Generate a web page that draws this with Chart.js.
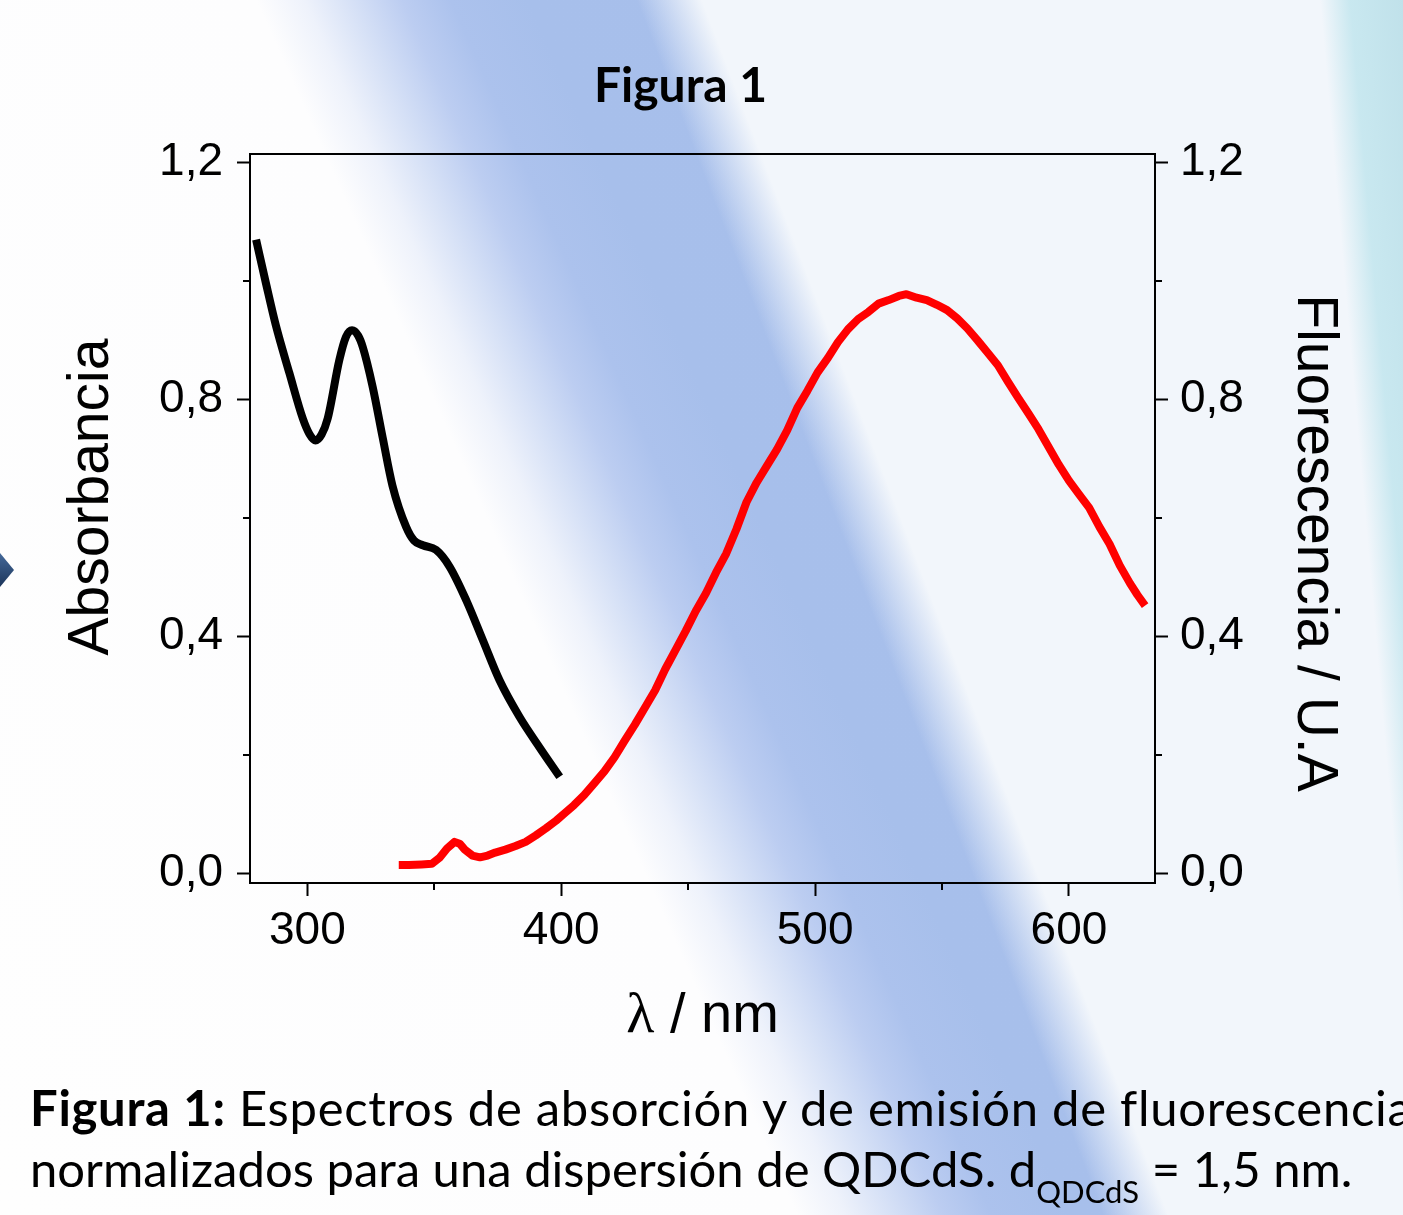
<!DOCTYPE html>
<html>
<head>
<meta charset="utf-8">
<script src="https://cdn.jsdelivr.net/npm/chart.js@4.4.1/dist/chart.umd.min.js"></script>
<style>
  html, body { margin: 0; padding: 0; }
  body {
    width: 1403px; height: 1215px; overflow: hidden; position: relative;
    background:
      linear-gradient(85deg, rgba(198,231,239,0) 94.5%, rgba(198,231,239,0.95) 96.5%, #c0e1ea 100%),
      linear-gradient(69deg, rgba(242,246,251,0) 59%, rgba(242,246,251,1) 62.5%),
      linear-gradient(66deg, #fefefe 0%, #fdfdfe 41%, #eef2fb 43.5%, #d5e0f6 46%, #bccdf1 48.5%, #acc2ed 51%, #a7bfeb 55%, #a9c0ec 100%);
  }
  #chart { position: absolute; left: 0; top: 0; }
  #arrow {
    position: absolute; left: 0; top: 553px; width: 14px; height: 34px;
    background: linear-gradient(#44699a, #1c355a);
    clip-path: polygon(0 0, 100% 50%, 0 100%);
  }
  #caption {
    position: absolute; left: 30px; top: 1077px;
    font-family: "Lato", sans-serif; font-size: 49px; line-height: 61px;
    color: #000; white-space: nowrap;
  }
  #caption .first { letter-spacing: 0.7px; }
  #caption .sub { font-size: 31px; position: relative; top: 16px; }
</style>
</head>
<body>
<div id="arrow"></div>
<canvas id="chart" width="1403" height="1215"></canvas>
<div id="caption"><span class="first"><b>Figura 1:</b> Espectros de absorción y de emisión de fluorescencia</span><br>normalizados para una dispersión de QDCdS. d<span class="sub">QDCdS</span> = 1,5 nm.</div>
<script>
// absorption spectrum (left axis)
const absWavelength = [279.8, 283.7, 287.6, 292.9, 298.2, 300.8, 303.2, 305.6, 308.0, 312.6, 315.2, 317.6, 320.0, 321.8, 325.7, 329.7, 333.5, 338.9, 342.0, 345.5, 350.7, 356.0, 362.6, 369.1, 375.7, 383.6, 391.4, 399.4];
const absorbance = [1.070, 0.996, 0.925, 0.845, 0.768, 0.742, 0.731, 0.741, 0.768, 0.867, 0.906, 0.917, 0.908, 0.889, 0.822, 0.735, 0.655, 0.585, 0.562, 0.554, 0.546, 0.518, 0.461, 0.394, 0.326, 0.264, 0.213, 0.163];

// emission spectrum (right axis)
const flWavelength = [336, 340, 345, 349, 352, 355, 358, 360, 362, 365, 368, 371, 374, 378, 382, 386, 390, 394, 398, 401, 405, 409, 413, 417, 421, 425, 429, 433, 437, 441, 445, 449, 453, 457, 461, 465, 469, 473, 477, 481, 485, 489, 493, 497, 501, 505, 509, 513, 517, 521, 525, 529, 533, 536, 540, 544, 548, 552, 556, 560, 564, 568, 572, 576, 580, 584, 588, 592, 596, 600, 604, 608, 612, 616, 620, 624, 627, 630];
const fluorescence = [0.014, 0.014, 0.015, 0.016, 0.026, 0.042, 0.053, 0.050, 0.040, 0.030, 0.027, 0.030, 0.035, 0.040, 0.046, 0.053, 0.064, 0.076, 0.089, 0.100, 0.115, 0.132, 0.152, 0.172, 0.196, 0.224, 0.251, 0.280, 0.309, 0.345, 0.377, 0.409, 0.443, 0.473, 0.508, 0.540, 0.581, 0.627, 0.660, 0.688, 0.716, 0.748, 0.786, 0.815, 0.846, 0.870, 0.897, 0.919, 0.936, 0.948, 0.962, 0.968, 0.975, 0.978, 0.972, 0.968, 0.960, 0.951, 0.937, 0.920, 0.900, 0.879, 0.858, 0.830, 0.803, 0.777, 0.750, 0.720, 0.690, 0.663, 0.640, 0.617, 0.585, 0.556, 0.520, 0.490, 0.470, 0.452];

// axis ticks
const xTicks = [300, 350, 400, 450, 500, 550, 600];
const xMajor = [300, 400, 500, 600];
const yTicks = [0, 0.2, 0.4, 0.6, 0.8, 1.0, 1.2];
const yMajor = [0, 0.4, 0.8, 1.2];

const absPoints = absWavelength.map((x, i) => ({x: x, y: absorbance[i]}));
const flPoints = flWavelength.map((x, i) => ({x: x, y: fluorescence[i]}));

const tickFont = {family: 'Liberation Sans', size: 46};
const isMajor = (list, v) => list.some(m => Math.abs(m - v) < 1e-6);
const fmtY = v => isMajor(yMajor, v) ? v.toFixed(1).replace('.', ',') : '';

// short minor ticks + axis titles
const frameExtras = {
  id: 'frameExtras',
  afterDraw(chart) {
    const c = chart.ctx;
    const {x, y, y2} = chart.scales;
    const area = chart.chartArea;
    c.save();
    c.strokeStyle = '#000';
    c.lineWidth = 2;
    c.beginPath();
    xTicks.filter(v => !isMajor(xMajor, v)).forEach(v => {
      const px = Math.round(x.getPixelForValue(v));
      c.moveTo(px, area.bottom); c.lineTo(px, area.bottom + 7);
    });
    yTicks.filter(v => !isMajor(yMajor, v)).forEach(v => {
      const py = Math.round(y.getPixelForValue(v));
      c.moveTo(area.left - 7, py); c.lineTo(area.left, py);
      const py2 = Math.round(y2.getPixelForValue(v));
      c.moveTo(area.right, py2); c.lineTo(area.right + 7, py2);
    });
    c.stroke();

    c.fillStyle = '#000';
    c.textBaseline = 'middle';
    c.textAlign = 'center';
    c.font = '57px "Liberation Sans"';
    c.save();
    c.translate(92, 497);
    c.rotate(-Math.PI / 2);
    c.fillText('Absorbancia', 0, 0);
    c.restore();
    c.save();
    c.translate(1314, 543);
    c.rotate(Math.PI / 2);
    c.fillText('Fluorescencia / U.A', 0, 0);
    c.restore();

    // x title: serif lambda followed by the unit
    const lam = 'λ';
    const rest = ' / nm';
    c.font = '58px "Liberation Serif"';
    const wl = c.measureText(lam).width;
    c.font = '56px "Liberation Sans"';
    const wr = c.measureText(rest).width;
    const x0 = (area.left + area.right) / 2 - (wl + wr) / 2;
    c.textAlign = 'left';
    c.textBaseline = 'alphabetic';
    c.font = '58px "Liberation Serif"';
    c.fillText(lam, x0, 1032);
    c.font = '56px "Liberation Sans"';
    c.fillText(rest, x0 + wl, 1032);
    c.restore();
  }
};

const ctx = document.getElementById('chart').getContext('2d');
new Chart(ctx, {
  type: 'line',
  data: {
    datasets: [
      {
        label: 'Absorbancia',
        data: absPoints,
        xAxisID: 'x', yAxisID: 'y',
        borderColor: '#000000',
        borderWidth: 8,
        pointRadius: 0,
        cubicInterpolationMode: 'monotone',
        borderCapStyle: 'butt',
        borderJoinStyle: 'round',
        fill: false
      },
      {
        label: 'Fluorescencia',
        data: flPoints,
        xAxisID: 'x', yAxisID: 'y2',
        borderColor: '#ff0000',
        borderWidth: 8,
        pointRadius: 0,
        tension: 0,
        borderCapStyle: 'butt',
        borderJoinStyle: 'round',
        fill: false
      }
    ]
  },
  options: {
    responsive: false,
    animation: false,
    devicePixelRatio: 1,
    layout: {padding: {left: 0, right: 42, top: 0, bottom: 0}},
    plugins: {
      legend: {display: false},
      tooltip: {enabled: false},
      title: {
        display: true,
        text: 'Figura 1',
        color: '#000',
        font: {family: 'Lato', size: 48, weight: 'bold', lineHeight: 1.2},
        padding: {top: 58, bottom: 38.4}
      }
    },
    scales: {
      x: {
        type: 'linear', position: 'bottom',
        min: 277.4, max: 633.9,
        afterBuildTicks: s => { s.ticks = xTicks.map(v => ({value: v})); },
        afterFit: s => { s.height = 332; },
        ticks: {
          autoSkip: false, maxRotation: 0, padding: 8, color: '#000', font: tickFont,
          callback: v => isMajor(xMajor, v) ? String(v) : ''
        },
        grid: {
          drawOnChartArea: false, tickLength: 13, tickWidth: 2,
          tickColor: c => isMajor(xMajor, c.tick.value) ? '#000' : 'rgba(0,0,0,0)'
        },
        border: {color: '#000', width: 2}
      },
      xTop: {
        type: 'linear', position: 'top',
        min: 277.4, max: 633.9,
        afterFit: s => { s.height = 0; },
        ticks: {display: false},
        grid: {drawOnChartArea: false, drawTicks: false},
        border: {color: '#000', width: 2}
      },
      y: {
        type: 'linear', position: 'left',
        min: -0.0164, max: 1.2147,
        afterBuildTicks: s => { s.ticks = yTicks.map(v => ({value: v})); },
        afterFit: s => { s.width = 250; },
        ticks: {autoSkip: false, padding: 14, color: '#000', font: tickFont, callback: fmtY},
        grid: {
          drawOnChartArea: false, tickLength: 13, tickWidth: 2,
          tickColor: c => isMajor(yMajor, c.tick.value) ? '#000' : 'rgba(0,0,0,0)'
        },
        border: {color: '#000', width: 2}
      },
      y2: {
        type: 'linear', position: 'right',
        min: -0.0164, max: 1.2147,
        afterBuildTicks: s => { s.ticks = yTicks.map(v => ({value: v})); },
        afterFit: s => { s.width = 206; },
        ticks: {autoSkip: false, padding: 12, color: '#000', font: tickFont, callback: fmtY},
        grid: {
          drawOnChartArea: false, tickLength: 13, tickWidth: 2,
          tickColor: c => isMajor(yMajor, c.tick.value) ? '#000' : 'rgba(0,0,0,0)'
        },
        border: {color: '#000', width: 2}
      }
    }
  },
  plugins: [frameExtras]
});
</script>
</body>
</html>
